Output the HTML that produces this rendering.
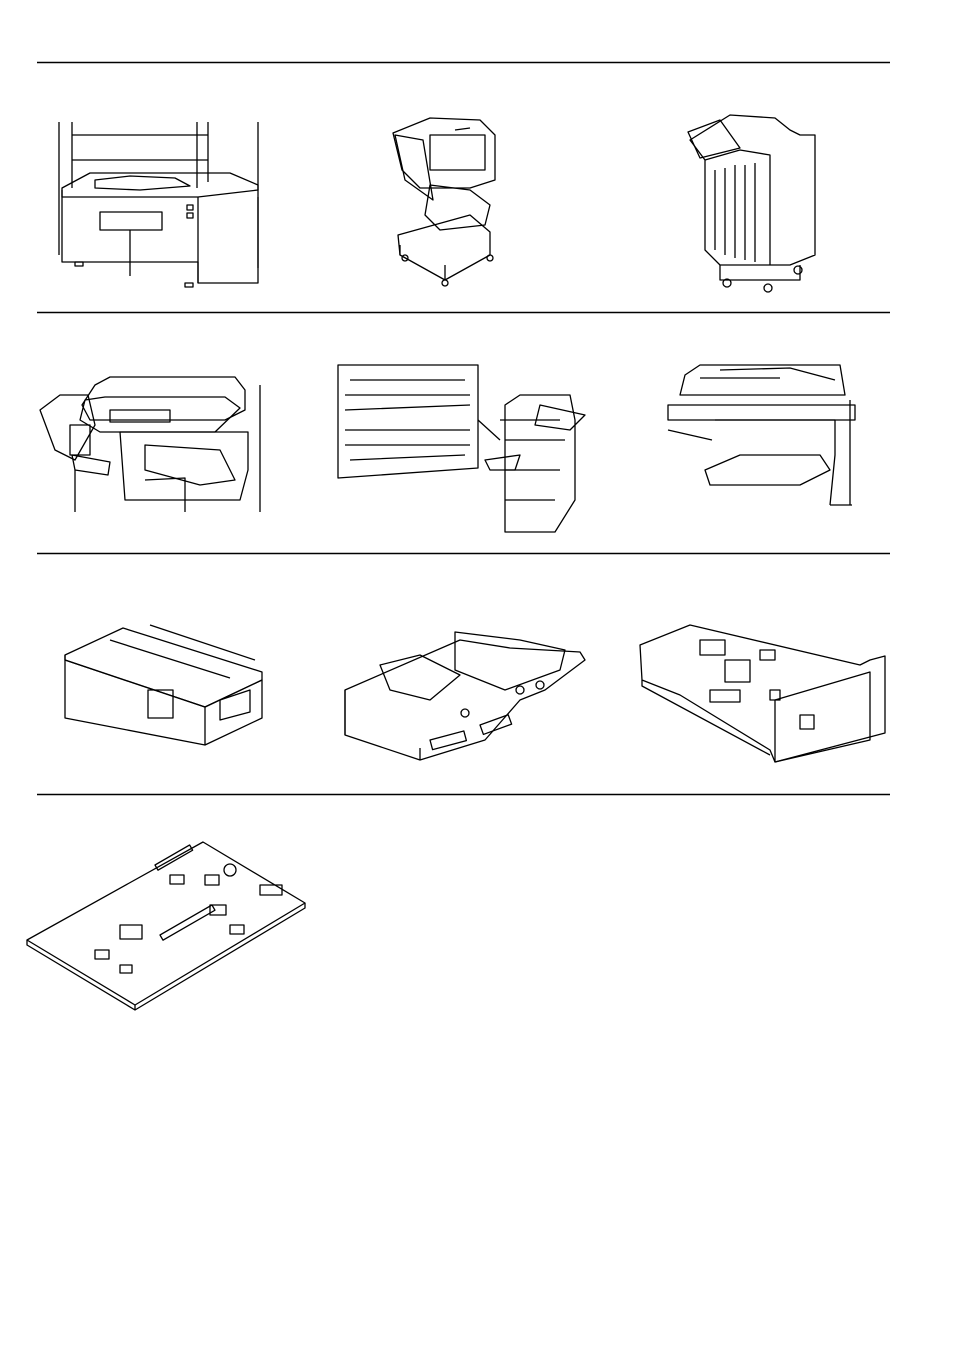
<!DOCTYPE html>
<html><head><meta charset="utf-8"><style>
html,body{margin:0;padding:0;background:#fff}
svg{display:block}
</style></head><body>
<svg width="954" height="1348" viewBox="0 0 954 1348" xmlns="http://www.w3.org/2000/svg" fill="none" stroke="#000" stroke-width="1.3" stroke-linejoin="round">
<g stroke-width="1.5">
<line x1="37" y1="62.5" x2="890" y2="62.5"/>
<line x1="37" y1="312.5" x2="890" y2="312.5"/>
<line x1="37" y1="553.5" x2="890" y2="553.5"/>
<line x1="37" y1="794.5" x2="890" y2="794.5"/>
</g>
<!-- Row1: paper cabinet -->
<g>
<path d="M59 122V255M72 122V188M197 122V188M208 122V182M258 122V268"/>
<path d="M72 135H208M72 160H208"/>
<path d="M62 188L90 173H230L258 185V190L198 197H62Z"/>
<path d="M62 190V262H198V283H258V197"/>
<path d="M198 197V283"/>
<path d="M95 180L130 176L175 178L190 186L140 190L95 188Z"/>
<path d="M100 212H162V230H100Z"/>
<path d="M130 230V276"/>
<rect x="75" y="262" width="8" height="4"/><rect x="185" y="283" width="8" height="4"/>
<rect x="187" y="205" width="6" height="5"/><rect x="187" y="213" width="6" height="5"/>
</g>
<!-- finisher -->
<g>
<path d="M393 133L430 118L480 120L495 135V180L470 188H420L402 170Z"/>
<path d="M395 135L423 140L433 200L405 180Z"/>
<path d="M430 135H485V170H430Z"/>
<path d="M430 185L470 190L490 205L485 225L440 230L425 215Z"/>
<path d="M398 235L470 215L490 232L490 255L445 280L400 255Z"/>
<path d="M400 255V245M445 280V265"/>
<circle cx="405" cy="258" r="3"/><circle cx="445" cy="283" r="3"/><circle cx="490" cy="258" r="3"/>
<path d="M455 130L470 128"/>
</g>
<!-- large finisher -->
<g>
<path d="M690 140L730 115L775 118L790 130L800 135H815V255L790 265H720L705 250V160Z"/>
<path d="M705 160L740 150L770 155L770 265"/>
<path d="M715 170V250M725 168V255M735 165V258M745 165V260M755 163V262"/>
<path d="M688 132L720 120L740 148L700 158Z"/>
<path d="M720 265V280H800V265"/>
<circle cx="727" cy="283" r="4"/><circle cx="768" cy="288" r="4"/><circle cx="798" cy="270" r="4"/>
</g>
<!-- Row2: copier with finisher -->
<g>
<path d="M95 385L110 377H235L245 390V410L225 420H90L82 405Z"/>
<path d="M85 400L105 397H225L240 408L215 432H100L80 420Z"/>
<path d="M110 410H170V422H110Z"/>
<path d="M40 410L60 395H88L95 425L75 460L55 450Z"/>
<path d="M70 425H90V455H70Z"/>
<path d="M72 455L110 462L108 475L75 470Z"/>
<path d="M120 432H248V470L240 500H125Z"/>
<path d="M145 445L220 450L235 480L200 485L145 470Z"/>
<path d="M260 385V512M75 470V512M145 480L185 478V512"/>
</g>
<!-- paper jam door -->
<g>
<path d="M338 365H478V468L338 478Z"/>
<path d="M345 395H470M345 410L470 405M345 430H470M345 445H470M350 460L465 455"/>
<path d="M350 380H465"/>
<path d="M478 420L500 440"/>
<path d="M505 405L520 395H570L575 420V500L555 532H505Z"/>
<path d="M500 420H560M505 440H565M505 470H560M505 500H555"/>
<path d="M540 405L585 415L570 430L535 425Z"/>
<path d="M485 460L520 455L515 470L490 470Z"/>
</g>
<!-- copier with document feeder -->
<g>
<path d="M685 375L700 365H840L845 395H680Z"/>
<path d="M720 370L790 368L835 380M700 378H780"/>
<path d="M668 405H855V420H668Z"/>
<path d="M715 420H835V455L830 505"/>
<path d="M705 470L740 455L820 455L830 470L800 485H710Z"/>
<path d="M668 430L712 440M850 400V505M830 505H852"/>
</g>
<!-- Row3: box -->
<g>
<path d="M65 655L123 628L262 672V680L205 707L65 660Z"/>
<path d="M65 655V718L205 745V707L262 680V718L205 745"/>
<path d="M65 660L205 707"/>
<path d="M110 640L230 678M150 625L255 660"/>
<rect x="148" y="690" width="25" height="28"/>
<path d="M220 700L250 690V712L220 720Z"/>
</g>
<!-- controller board frame -->
<g>
<path d="M345 690L460 640L510 648L580 652L585 660L545 690L520 700L485 740L420 760L345 735Z"/>
<path d="M345 690V735M420 760V748"/>
<path d="M455 632L520 640L565 650L560 670L505 690L455 670Z"/>
<path d="M380 665L420 655L460 675L430 700L390 690Z"/>
<rect x="430" y="740" width="35" height="10" transform="rotate(-15 430 740)"/>
<rect x="480" y="725" width="30" height="10" transform="rotate(-20 480 725)"/>
<circle cx="465" cy="713" r="4"/><circle cx="520" cy="690" r="4"/><circle cx="540" cy="685" r="4"/>
</g>
<!-- network card -->
<g>
<path d="M640 645L690 625L860 665L870 660L885 656V733L775 762L770 750L680 695L642 680Z"/>
<path d="M642 680V686L770 755"/>
<path d="M775 700L870 672V740L775 762Z"/>
<rect x="800" y="715" width="14" height="14"/>
<rect x="700" y="640" width="25" height="15"/><rect x="725" y="660" width="25" height="22"/>
<rect x="760" y="650" width="15" height="10"/><rect x="770" y="690" width="10" height="10"/>
<rect x="710" y="690" width="30" height="12"/>
</g>
<!-- Row4: memory board -->
<g>
<path d="M27 940L203 842L305 903L135 1005Z"/>
<path d="M135 1005V1010L305 908V903M27 940V945L135 1010"/>
<rect x="120" y="925" width="22" height="14"/>
<rect x="155" y="865" width="40" height="6" transform="rotate(-30 155 865)"/>
<rect x="160" y="935" width="60" height="6" transform="rotate(-30 160 935)"/>
<rect x="205" y="875" width="14" height="10"/><rect x="170" y="875" width="14" height="9"/>
<rect x="210" y="905" width="16" height="10"/><rect x="230" y="925" width="14" height="9"/>
<rect x="95" y="950" width="14" height="9"/><rect x="120" y="965" width="12" height="8"/>
<circle cx="230" cy="870" r="6"/>
<rect x="260" y="885" width="22" height="10"/>
</g>
</svg>
</body></html>
